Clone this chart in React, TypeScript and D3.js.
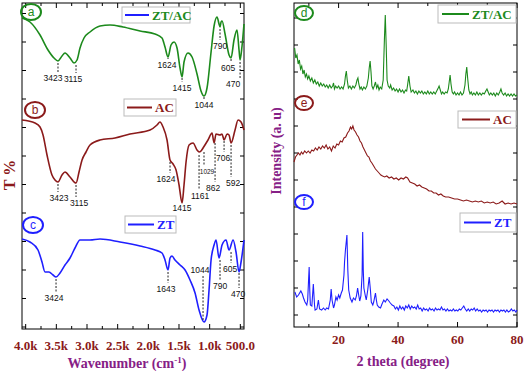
import * as d3 from "d3";

// ---- FTIR (left): wavenumber (cm-1) vs stacked transmittance (a.u.) ----
const ftirTicks = [4000, 3500, 3000, 2500, 2000, 1500, 1000, 500];
const ftirTickLabels = ["4.0k", "3.5k", "3.0k", "2.5k", "2.0k", "1.5k", "1.0k", "500.0"];

const ftirZTAC = [[4060,311],[3930,307],[3766,294],[3636,279],[3538,271],[3473,268],[3408,273],[3359,276],[3277,271],[3212,266],[3163,269],[3114,281],[3049,291],[2951,297],[2788,303],[2625,304],[2413,302],[2135,298],[1891,295],[1777,291],[1728,282],[1679,272],[1630,284],[1581,287],[1532,281],[1483,261],[1450,252],[1418,267],[1353,276],[1287,272],[1206,255],[1141,238],[1092,233],[1043,241],[977,277],[928,303],[880,312],[847,305],[831,302],[814,307],[798,308],[749,295],[684,274],[651,271],[603,289],[554,299],[521,279],[504,269],[472,283],[440,305]];
const ftirAC = [[4060,209],[3848,206],[3766,202],[3717,194],[3652,174],[3571,154],[3522,149],[3473,147],[3408,154],[3359,157],[3277,152],[3179,146],[3130,157],[3081,169],[3016,177],[2951,184],[2788,189],[2543,191],[2299,195],[1972,199],[1858,204],[1810,207],[1760,202],[1695,189],[1646,169],[1597,165],[1548,159],[1499,144],[1450,126],[1418,144],[1385,167],[1336,184],[1271,186],[1206,179],[1173,177],[1141,178],[1108,181],[1027,189],[961,196],[928,186],[896,195],[831,194],[798,195],[765,189],[716,195],[684,194],[651,186],[586,199],[537,209],[488,207],[440,199]];
const ftirZT = [[4060,90],[3930,87],[3799,79],[3734,67],[3685,57],[3620,57],[3554,54],[3505,52],[3440,56],[3359,64],[3277,71],[3196,81],[3114,89],[2951,89],[2788,90],[2462,87],[2135,83],[1891,79],[1777,76],[1728,69],[1679,59],[1646,71],[1614,73],[1565,69],[1483,64],[1401,59],[1320,49],[1238,36],[1173,19],[1092,7],[1043,14],[1010,39],[977,69],[928,84],[896,89],[847,71],[798,84],[733,89],[684,79],[618,89],[570,77],[521,57],[488,67],[440,89]];

// peak marks: [label, wavenumber of mark, top, bottom, label shift, label above]
const peaksZTAC = [["3423",3473,266,257,-5],["3115",3179,264,256,-3],["1624",1679,271,270,-1],["1415",1450,251,247,0],["1044",1092,232,230,0],["790",831,300,289,0],["605",651,270,267,-3],["470",504,267,251,-7]];
const peaksAC = [["3423",3473,145,137,1],["3115",3179,144,132,3],["1624",1646,167,156,-4],["1415",1450,127,127,0],["1161",1173,174,139,1],["1029",1092,177,164,3,false,true],["862",912,186,147,-2],["706",765,188,177,-1],["592",651,184,152,2]];
const peaksZT = [["3424",3505,50,37,-2],["1643",1679,57,46,-2],["1044",1108,53,9,-3,true],["790",831,69,49,0],["605",651,77,66,-1],["470",521,56,41,-1]];

// ---- XRD (right): 2 theta vs stacked intensity (a.u.) ----
const xrdTicks = [20, 40, 60, 80];

const xrdZTAC = [[5.2,279],[5.6,269],[6.0,272],[6.4,263],[6.8,267],[7.2,258],[7.6,261],[8.0,253],[8.4,257],[8.8,250],[9.2,253],[9.6,248],[10.0,251],[10.5,246],[11.0,249],[11.5,244],[12.0,247],[12.5,243],[13.0,245],[13.5,241],[14.0,244],[14.5,241],[15.0,243],[15.5,240],[16.0,242],[16.5,239],[17.0,242],[17.5,239],[18.0,241],[18.3,244],[18.6,238],[19.0,241],[19.5,239],[20.0,241],[20.5,238],[21.0,240],[21.5,238],[22.0,243],[22.3,251],[22.6,256],[22.9,247],[23.3,239],[23.8,241],[24.3,238],[24.8,241],[25.3,239],[25.8,242],[26.2,247],[26.5,249],[26.8,243],[27.2,238],[27.6,240],[28.0,237],[28.5,240],[29.0,238],[29.5,241],[30.0,249],[30.3,259],[30.6,266],[30.9,255],[31.2,241],[31.6,238],[32.0,241],[32.4,245],[32.8,239],[33.2,242],[33.6,237],[34.0,240],[34.5,238],[35.0,247],[35.4,287],[35.7,312],[36.0,282],[36.3,247],[36.7,241],[37.2,239],[37.5,242],[38.0,237],[38.5,239],[39.0,236],[39.5,238],[40.0,235],[40.5,238],[41.0,235],[41.5,237],[42.0,234],[42.5,237],[42.9,236],[43.2,242],[43.6,251],[44.0,241],[44.4,235],[45.0,237],[45.5,234],[46.0,236],[46.5,233],[47.0,236],[47.5,234],[48.0,236],[48.5,233],[49.0,235],[49.5,233],[50.0,236],[50.5,233],[51.0,235],[51.5,233],[52.0,235],[52.5,233],[53.0,236],[53.5,239],[53.8,241],[54.2,237],[54.6,233],[55.0,235],[55.5,233],[56.0,235],[56.5,234],[56.9,238],[57.2,245],[57.5,252],[57.8,243],[58.2,235],[58.6,233],[59.0,235],[59.5,232],[60.0,234],[60.5,232],[61.0,235],[61.5,232],[62.0,234],[62.5,242],[62.8,253],[63.1,260],[63.4,249],[63.8,237],[64.2,233],[64.6,235],[65.0,232],[65.5,234],[66.0,232],[66.5,235],[67.0,232],[67.5,234],[68.0,232],[68.5,234],[69.0,233],[69.5,236],[69.9,238],[70.3,235],[70.7,232],[71.2,234],[71.7,232],[72.2,234],[72.7,231],[73.2,234],[73.7,232],[74.2,235],[74.6,238],[75.0,234],[75.5,232],[76.0,234],[76.5,231],[77.0,233],[77.5,231],[78.0,233],[78.5,231],[79.0,233],[79.5,231],[80.0,232]];
const xrdAC = [[5.0,165],[5.5,170],[6.0,172],[6.5,174],[7.0,172],[7.5,175],[8.0,173],[8.6,176],[9.2,174],[9.8,176],[10.4,174],[11.0,177],[11.6,176],[12.2,179],[12.8,177],[13.4,180],[14.0,178],[14.6,181],[15.2,179],[15.8,182],[16.4,178],[17.0,180],[17.6,176],[18.2,181],[18.8,179],[19.4,183],[20.0,182],[20.6,186],[21.2,185],[21.8,189],[22.4,190],[23.0,194],[23.5,196],[24.0,200],[24.4,198],[24.8,201],[25.2,197],[25.7,195],[26.2,192],[26.7,190],[27.2,186],[27.7,184],[28.2,180],[28.7,177],[29.2,174],[29.7,171],[30.2,170],[30.7,166],[31.2,164],[31.8,161],[32.4,158],[33.0,156],[33.6,154],[34.2,152],[34.8,151],[35.5,150],[36.2,151],[37.0,149],[37.8,150],[38.6,148],[39.4,149],[40.2,147],[41.0,149],[41.8,148],[42.6,150],[43.2,149],[44.0,145],[44.8,144],[45.6,143],[46.4,141],[47.2,142],[48.0,140],[48.8,139],[49.6,138],[50.4,136],[51.2,136],[52.0,134],[52.8,134],[53.6,132],[54.4,133],[55.2,131],[56.0,130],[57.0,130],[58.0,129],[59.0,128],[60.0,128],[61.0,127],[62.0,126],[63.0,127],[64.0,126],[65.0,125],[66.0,126],[67.0,125],[68.0,126],[69.0,124],[70.0,125],[71.0,124],[72.0,125],[73.0,123],[74.0,124],[75.0,126],[76.0,123],[77.0,124],[78.0,123],[79.0,124],[80.0,123]];
const xrdZT = [[5.3,35],[5.9,30],[6.5,32],[7.3,36],[7.8,33],[8.2,29],[8.7,25],[9.3,22],[9.6,27],[10.1,60],[10.3,37],[10.5,22],[11.0,21],[11.5,43],[11.9,22],[12.1,17],[12.7,18],[13.2,27],[13.6,18],[14.3,17],[14.9,19],[15.5,17],[16.0,19],[16.6,18],[17.2,27],[17.5,38],[17.8,27],[18.3,19],[18.6,22],[19.1,30],[19.5,27],[20.0,32],[20.4,29],[20.9,34],[21.3,37],[21.8,52],[22.0,65],[22.3,77],[22.8,92],[23.1,57],[23.4,37],[23.9,29],[24.5,25],[25.0,29],[25.6,27],[26.0,31],[26.4,39],[26.7,33],[27.1,26],[27.5,31],[27.9,52],[28.1,95],[28.3,57],[28.5,39],[29.0,31],[29.3,27],[29.8,37],[30.1,45],[30.3,50],[30.7,37],[31.0,25],[31.5,22],[31.8,25],[32.4,34],[32.7,27],[33.0,22],[33.5,20],[34.1,19],[34.6,23],[35.2,27],[35.7,25],[36.3,28],[36.9,26],[37.4,24],[38.0,22],[38.6,21],[39.1,18],[39.6,20],[40.1,17],[40.6,21],[41.1,18],[41.6,20],[42.1,17],[42.6,21],[43.1,19],[43.6,22],[44.1,18],[44.6,21],[45.1,19],[45.6,20],[46.1,18],[46.6,22],[47.1,18],[47.6,19],[48.1,16],[48.6,19],[49.1,17],[49.6,18],[50.1,16],[50.6,19],[51.1,17],[51.6,18],[52.1,16],[52.6,19],[53.1,17],[53.6,18],[54.1,17],[54.6,20],[55.1,17],[55.6,18],[56.1,16],[56.6,18],[57.1,16],[57.6,17],[58.1,16],[58.6,18],[59.1,16],[59.6,17],[60.1,16],[60.6,18],[61.1,17],[61.6,19],[62.1,21],[62.6,18],[63.1,16],[63.6,18],[64.1,16],[64.6,18],[65.1,17],[65.6,19],[66.1,16],[66.6,18],[67.1,16],[67.6,17],[68.1,15],[68.6,17],[69.1,16],[69.6,17],[70.1,15],[70.6,17],[71.1,16],[71.6,17],[72.1,15],[72.6,17],[73.1,16],[73.6,17],[74.1,15],[74.6,17],[75.1,16],[75.6,17],[76.1,15],[76.6,17],[77.1,15],[77.6,16],[78.1,18],[78.6,16],[79.1,17],[79.6,15],[80.0,17]];

const GREEN = "#1c8a1c";
const BROWN = "#8b1a1a";
const BLUE = "#1f1fff";
const PURPLE = "#862086";
const SERIF = "'Liberation Serif', 'Times New Roman', serif";
const SANS = "'Liberation Sans', Arial, sans-serif";

const xL = d3.scaleLinear().domain([4060, 440]).range([22, 244]);
const yL = d3.scaleLinear().domain([0, 326]).range([329, 3]);
const xR = d3.scaleLinear().domain([5, 80]).range([294, 517]);
const yR = d3.scaleLinear().domain([0, 324]).range([327, 3]);

const lineL = d3.line<number[]>().x(d => xL(d[0])).y(d => yL(d[1])).curve(d3.curveMonotoneX);
const lineR = d3.line<number[]>().x(d => xR(d[0])).y(d => yR(d[1]));

function Frame({ x0, x1, y0, y1, xt, xtMinor, yt }) {
	return (
		<g stroke="#000" strokeWidth={1} fill="none">
			<rect x={x0} y={y0} width={x1 - x0} height={y1 - y0} />
			{xt.map((x, i) => (
				<g key={"x" + i}>
					<line x1={x} x2={x} y1={y1} y2={y1 - 5} />
					<line x1={x} x2={x} y1={y0} y2={y0 + 5} />
				</g>
			))}
			{xtMinor.map((x, i) => (
				<g key={"m" + i}>
					<line x1={x} x2={x} y1={y1} y2={y1 - 3} />
					<line x1={x} x2={x} y1={y0} y2={y0 + 3} />
				</g>
			))}
			{yt.map((y, i) => (
				<g key={"y" + i}>
					<line x1={x0} x2={x0 + 4} y1={y} y2={y} />
					<line x1={x1} x2={x1 - 4} y1={y} y2={y} />
				</g>
			))}
		</g>
	);
}

function Legend({ x, y, w, h, text, lineColor, textColor, lx1, lx2 }) {
	return (
		<g>
			<rect x={x} y={y} width={w} height={h} fill="#fff" stroke="#bbb" strokeWidth={1} />
			<line x1={lx1} x2={lx2} y1={y + h / 2} y2={y + h / 2} stroke={lineColor} strokeWidth={2} />
			<text x={lx2 + 3} y={y + h / 2 + 4.5} fill={textColor} fontFamily={SERIF} fontWeight="bold" fontSize={13}>{text}</text>
		</g>
	);
}

function Tag({ cx, cy, letter, color, rx = 10, ry = 8 }) {
	return (
		<g>
			<ellipse cx={cx} cy={cy} rx={rx} ry={ry} fill="none" stroke={color} strokeWidth={2} />
			<text x={cx} y={cy + 4} textAnchor="middle" fill={color} fontFamily={SANS} fontSize={12}>{letter}</text>
		</g>
	);
}

function Peaks({ peaks }) {
	return (
		<g>
			{peaks.map((p, i) => {
				const [label, wn, top, bottom, dx, above, small] = p;
				const x = xL(wn);
				const ty = above ? yL(top) - 3 : yL(bottom) + 9;
				return (
					<g key={i}>
						{top !== bottom && (
							<line x1={x} x2={x} y1={yL(top)} y2={yL(bottom)} stroke="#222" strokeWidth={1} strokeDasharray="2,1.5" />
						)}
						<text x={x + dx} y={ty} textAnchor="middle" fill="#111" fontFamily={SANS} fontSize={small ? 6.5 : 8.5}>{label}</text>
					</g>
				);
			})}
		</g>
	);
}

export default function App() {
	const minorL = d3.range(3750, 400, -500).map(xL);
	const yTicksL = d3.range(2, 326, 28.5).map(yL);
	const yTicksR = d3.range(12, 324, 27).map(yR);
	const minorR = [10, 30, 50, 70].map(xR);

	return (
		<svg width={524} height={371} style={{ position: "absolute", left: 0, top: 0, background: "#fff" }}>
			{/* left panel: FTIR */}
			<Frame x0={22} x1={244} y0={3} y1={329} xt={ftirTicks.map(xL)} xtMinor={minorL} yt={yTicksL} />
			<path d={lineL(ftirZTAC)} fill="none" stroke={GREEN} strokeWidth={1.6} />
			<path d={lineL(ftirAC)} fill="none" stroke={BROWN} strokeWidth={1.6} />
			<path d={lineL(ftirZT)} fill="none" stroke={BLUE} strokeWidth={1.6} />
			<Peaks peaks={peaksZTAC} />
			<Peaks peaks={peaksAC} />
			<Peaks peaks={peaksZT} />
			<Legend x={122} y={7} w={68} h={16} text="ZT/AC" lineColor={BLUE} textColor={GREEN} lx1={125} lx2={149} />
			<Legend x={124} y={99} w={52} h={17} text="AC" lineColor={BROWN} textColor={BROWN} lx1={127} lx2={152} />
			<Legend x={125} y={216} w={51} h={17} text="ZT" lineColor={BLUE} textColor={BLUE} lx1={128} lx2={154} />
			<Tag cx={31} cy={12} letter="a" color={GREEN} />
			<Tag cx={35} cy={110} letter="b" color={BROWN} />
			<Tag cx={33} cy={225} letter="c" color={BLUE} />
			{ftirTicks.map((t, i) => (
				<text key={t} x={xL(t)} y={350} textAnchor="middle" fill={BROWN} fontFamily={SERIF} fontWeight="bold" fontSize={13}>{ftirTickLabels[i]}</text>
			))}
			<text x={127} y={368} textAnchor="middle" fill={PURPLE} fontFamily={SERIF} fontWeight="bold" fontSize={14}>
				Wavenumber (cm<tspan dy={-5} fontSize={9}>-1</tspan><tspan dy={5}>)</tspan>
			</text>
			<text transform="translate(15,175) rotate(-90)" textAnchor="middle" fill={BROWN} fontFamily={SERIF} fontWeight="bold" fontSize={16}>T %</text>

			{/* right panel: XRD */}
			<Frame x0={294} x1={517} y0={3} y1={327} xt={xrdTicks.map(xR)} xtMinor={minorR} yt={yTicksR} />
			<path d={lineR(xrdZTAC)} fill="none" stroke={GREEN} strokeWidth={1.1} />
			<path d={lineR(xrdAC)} fill="none" stroke={BROWN} strokeWidth={1.1} />
			<path d={lineR(xrdZT)} fill="none" stroke={BLUE} strokeWidth={1.1} />
			<Legend x={438} y={5} w={78} h={18} text="ZT/AC" lineColor={GREEN} textColor={GREEN} lx1={442} lx2={469} />
			<Legend x={458} y={111} w={58} h={17} text="AC" lineColor={BROWN} textColor={BROWN} lx1={462} lx2={490} />
			<Legend x={460} y={213} w={56} h={19} text="ZT" lineColor={BLUE} textColor={BLUE} lx1={464} lx2={491} />
			<Tag cx={304} cy={13} letter="d" color={GREEN} rx={9} ry={7} />
			<Tag cx={304} cy={103} letter="e" color={BROWN} rx={9} ry={7} />
			<Tag cx={304} cy={202} letter="f" color={BLUE} rx={9} ry={7} />
			{xrdTicks.map(t => (
				<text key={t} x={xR(t)} y={344} textAnchor="middle" fill={BROWN} fontFamily={SERIF} fontWeight="bold" fontSize={13}>{t}</text>
			))}
			<text x={403} y={366} textAnchor="middle" fill={PURPLE} fontFamily={SERIF} fontWeight="bold" fontSize={14}>2 theta (degree)</text>
			<text transform="translate(281,151) rotate(-90)" textAnchor="middle" fill={PURPLE} fontFamily={SERIF} fontWeight="bold" fontSize={14}>Intensity (a. u)</text>
		</svg>
	);
}
